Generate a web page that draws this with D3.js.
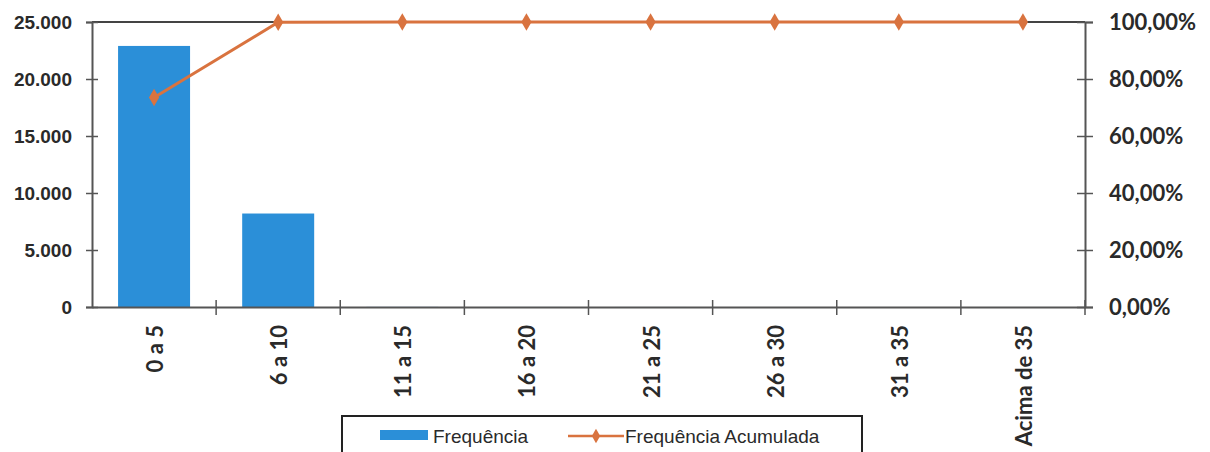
<!DOCTYPE html>
<html>
<head>
<meta charset="utf-8">
<script src="https://cdn.jsdelivr.net/npm/d3@7"></script>
<style>
  body { margin: 0; background: #fff; }
  svg { display: block; }
</style>
</head>
<body>
<div id="chart"></div>
<script>
// Chart data
var categories = ["0 a 5", "6 a 10", "11 a 15", "16 a 20", "21 a 25", "26 a 30", "31 a 35", "Acima de 35"];
var frequencia = [22900, 8200, 8, 3, 2, 1, 1, 1];
var acumulada = [73.5, 99.9, 100, 100, 100, 100, 100, 100];
var leftTicks = [0, 5000, 10000, 15000, 20000, 25000];
var rightTicks = [0, 20, 40, 60, 80, 100];

var width = 1210, height = 452;
var plotLeft = 92, plotRight = 1085, plotTop = 22, plotBottom = 307;

var svg = d3.select("#chart")
    .append("svg")
    .attr("width", width)
    .attr("height", height);

svg.append("rect")
    .attr("width", width)
    .attr("height", height)
    .attr("fill", "#fff");

var x = d3.scaleBand()
    .domain(categories)
    .range([plotLeft, plotRight])
    .paddingInner(0.42)
    .paddingOuter(0.21);

var xPos = d3.scaleBand()
    .domain(categories)
    .range([plotLeft, plotRight]);

var y = d3.scaleLinear()
    .domain([0, 25000])
    .range([plotBottom, plotTop]);

var y2 = d3.scaleLinear()
    .domain([0, 100])
    .range([plotBottom, plotTop]);

// bars
svg.selectAll(".bar")
    .data(categories)
    .enter().append("rect")
    .attr("class", "bar")
    .attr("x", function(d) { return x(d); })
    .attr("y", function(d, i) { return y(frequencia[i]); })
    .attr("width", x.bandwidth())
    .attr("height", function(d, i) { return plotBottom - y(frequencia[i]); })
    .attr("fill", "#2b8fd8");

// frame: top border
svg.append("line")
    .attr("x1", plotLeft).attr("x2", plotRight)
    .attr("y1", plotTop).attr("y2", plotTop)
    .attr("stroke", "#444")
    .attr("stroke-width", 2);

// left axis
var yAxis = svg.append("g")
    .attr("transform", "translate(" + plotLeft + ",0)")
    .call(d3.axisLeft(y)
        .tickValues(leftTicks)
        .tickSize(6)
        .tickFormat(function(d) { return d3.format(",")(d).replace(/,/g, "."); }));

// right axis
var y2Axis = svg.append("g")
    .attr("transform", "translate(" + plotRight + ",0)")
    .call(d3.axisRight(y2)
        .tickValues(rightTicks)
        .tickSize(8)
        .tickFormat(function(d) { return d.toFixed(2).replace(".", ",") + "%"; }));

// bottom axis (ticks at band boundaries)
var xAxis = svg.append("g")
    .attr("transform", "translate(0," + plotBottom + ")")
    .call(d3.axisBottom(xPos).tickSize(0).tickFormat(""));

svg.append("g").selectAll("line")
    .data(categories)
    .enter().append("line")
    .attr("x1", function(d) { return xPos(d) + xPos.bandwidth(); })
    .attr("x2", function(d) { return xPos(d) + xPos.bandwidth(); })
    .attr("y1", plotBottom - 7)
    .attr("y2", plotBottom + 8)
    .attr("stroke", "#555")
    .attr("stroke-width", 1.5);

[yAxis, y2Axis, xAxis].forEach(function(g) {
    g.select(".domain").attr("stroke", "#555").attr("stroke-width", 2);
    g.selectAll(".tick line").attr("stroke", "#555").attr("stroke-width", 1.5);
});

yAxis.selectAll(".tick line").attr("x1", 6);
y2Axis.selectAll(".tick line").attr("x1", -8);

yAxis.selectAll(".tick text")
    .attr("x", -20)
    .style("font-family", "'Liberation Sans', Arial, sans-serif")
    .style("font-size", "19px")
    .style("font-weight", "bold")
    .attr("fill", "#2a2a2a");

y2Axis.selectAll(".tick text")
    .attr("x", 24)
    .style("font-family", "Lato, sans-serif")
    .style("font-size", "22px")
    .style("font-weight", "bold")
    .attr("fill", "#2a2a2a");

// x labels, rotated
svg.append("g").selectAll("text")
    .data(categories)
    .enter().append("text")
    .attr("transform", function(d) {
        return "translate(" + (xPos(d) + xPos.bandwidth() / 2 + 9) + ",325) rotate(-90)";
    })
    .attr("text-anchor", "end")
    .style("font-family", "Lato, sans-serif")
    .style("font-size", "22px")
    .style("font-weight", "bold")
    .attr("fill", "#2a2a2a")
    .text(function(d) { return d; });

// cumulative line
var line = d3.line()
    .x(function(d, i) { return xPos(categories[i]) + xPos.bandwidth() / 2; })
    .y(function(d) { return y2(d); });

svg.append("path")
    .datum(acumulada)
    .attr("fill", "none")
    .attr("stroke", "#d9733f")
    .attr("stroke-width", 3)
    .attr("d", line);

svg.selectAll(".mark")
    .data(acumulada)
    .enter().append("path")
    .attr("class", "mark")
    .attr("transform", function(d, i) {
        return "translate(" + (xPos(categories[i]) + xPos.bandwidth() / 2) + "," + y2(d) + ")";
    })
    .attr("d", d3.symbol().type(d3.symbolDiamond).size(90))
    .attr("fill", "#d9733f");

// legend
var legend = svg.append("g");

legend.append("rect")
    .attr("x", 342).attr("y", 416)
    .attr("width", 520).attr("height", 60)
    .attr("fill", "#fff")
    .attr("stroke", "#222")
    .attr("stroke-width", 2);

legend.append("rect")
    .attr("x", 380).attr("y", 430)
    .attr("width", 48).attr("height", 10)
    .attr("fill", "#2b8fd8");

legend.append("text")
    .attr("x", 433).attr("y", 443)
    .style("font-family", "'Liberation Sans', Arial, sans-serif")
    .style("font-size", "19px")
    .attr("fill", "#2a2a2a")
    .text("Frequência");

legend.append("line")
    .attr("x1", 568).attr("x2", 624)
    .attr("y1", 436).attr("y2", 436)
    .attr("stroke", "#d9733f")
    .attr("stroke-width", 2.5);

legend.append("path")
    .attr("transform", "translate(596,436)")
    .attr("d", d3.symbol().type(d3.symbolDiamond).size(60))
    .attr("fill", "#d9733f");

legend.append("text")
    .attr("x", 625).attr("y", 443)
    .style("font-family", "'Liberation Sans', Arial, sans-serif")
    .style("font-size", "19px")
    .attr("fill", "#2a2a2a")
    .text("Frequência Acumulada");
</script>
</body>
</html>
